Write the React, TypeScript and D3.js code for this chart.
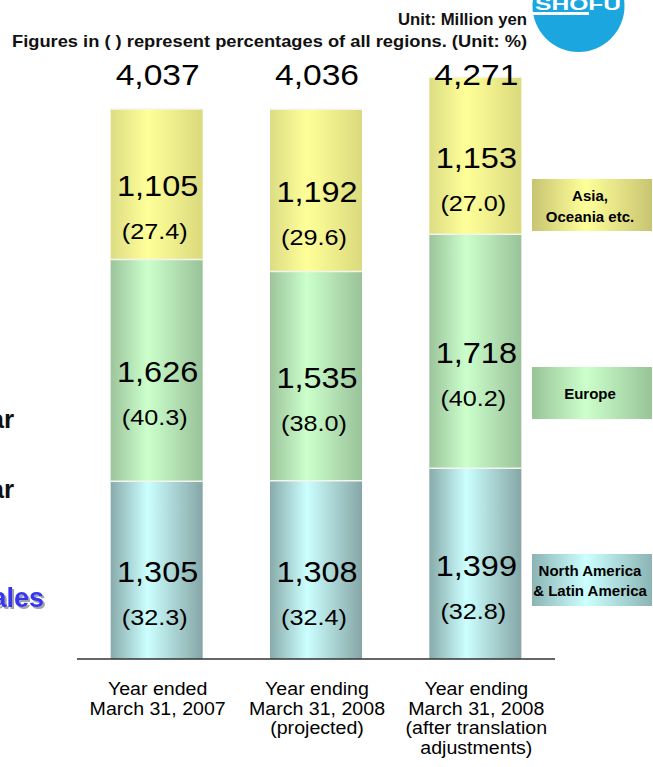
import React from "react";
import * as d3 from "d3";

const categories = ["2007", "2008p", "2008t"];
const categoryLabels = [
  ["Year ended", "March 31, 2007"],
  ["Year ending", "March 31, 2008", "(projected)"],
  ["Year ending", "March 31, 2008", "(after translation", "adjustments)"],
];
const regions = ["North America & Latin America", "Europe", "Asia, Oceania etc."];
const northAmerica = [1305, 1308, 1399];
const europe = [1626, 1535, 1718];
const asia = [1105, 1192, 1153];
const northAmericaPct = ["(32.3)", "(32.4)", "(32.8)"];
const europePct = ["(40.3)", "(38.0)", "(40.2)"];
const asiaPct = ["(27.4)", "(29.6)", "(27.0)"];
const totals = ["4,037", "4,036", "4,271"];
const yMax = 4271;

const W = 653;
const H = 767;
const baseY = 659;
const topY = 77;
const axisL = 77;
const axisR = 555;
const barW = 92;
const SX = 1.12;

const fills = [
  { id: "gNA", edgeL: "#88abab", mid: "#ccffff", edgeR: "#86a6a6", lgEdge: "#8cb4b4" },
  { id: "gEU", edgeL: "#9cc49c", mid: "#ccffcc", edgeR: "#99c299", lgEdge: "#98c498" },
  { id: "gAS", edgeL: "#dcdc84", mid: "#ffff99", edgeR: "#dada7e", lgEdge: "#c8c472" },
];

const legendBoxes = [
  { y: 554, h: 52, gap: 20, lines: ["North America", "& Latin America"] },
  { y: 367, h: 52, gap: 20, lines: ["Europe"] },
  { y: 179, h: 52, gap: 21, lines: ["Asia,", "Oceania etc."] },
];

export default function App() {
  const x = d3.scalePoint<string>().domain(categories).range([axisL, axisR]).padding(0.5);
  const y = d3.scaleLinear().domain([0, yMax]).range([baseY, topY]);
  const series = [northAmerica, europe, asia];
  const pcts = [northAmericaPct, europePct, asiaPct];
  const table = categories.map((c, i) => ({
    c,
    v0: northAmerica[i],
    v1: europe[i],
    v2: asia[i],
  }));
  const stack = d3.stack<any>().keys(["v0", "v1", "v2"])(table);

  const font = "Arial, 'Liberation Sans', Helvetica, sans-serif";

  const stext = (
    key: string,
    tx: number,
    ty: number,
    s: string,
    size: number,
    extra: any = {},
    sx: number = SX
  ) => (
    <text
      key={key}
      transform={`translate(${tx},${ty}) scale(${sx},1)`}
      textAnchor="middle"
      fontSize={size}
      fontFamily={font}
      fill="#000"
      {...extra}
    >
      {s}
    </text>
  );

  return (
    <svg
      width={W}
      height={H}
      style={{ position: "absolute", left: 0, top: 0, background: "#fff" }}
      fontFamily={font}
    >
      <defs>
        {fills.map((f) => (
          <linearGradient key={f.id} id={f.id} x1="0" x2="1" y1="0" y2="0">
            <stop offset="0" stopColor={f.edgeL} />
            <stop offset="0.4" stopColor={f.mid} />
            <stop offset="1" stopColor={f.edgeR} />
          </linearGradient>
        ))}
        {fills.map((f) => (
          <linearGradient key={f.id + "L"} id={f.id + "L"} x1="0" x2="1" y1="0" y2="0">
            <stop offset="0" stopColor={f.lgEdge} />
            <stop offset="0.45" stopColor={f.mid} />
            <stop offset="1" stopColor={f.lgEdge} />
          </linearGradient>
        ))}
        <filter id="shadow" x="-10%" y="-10%" width="130%" height="130%">
          <feDropShadow dx="2" dy="2" stdDeviation="0.6" floodColor="#999" floodOpacity="0.9" />
        </filter>
      </defs>

      {/* logo */}
      <circle cx={578.5} cy={6} r={46} fill="#1ba6df" />
      <text
        x={578}
        y={10}
        textAnchor="middle"
        fontSize={16}
        fontWeight="bold"
        fill="#fff"
        textLength={86}
        lengthAdjust="spacingAndGlyphs"
      >
        SHOFU
      </text>
      <rect x={533} y={12} width={56} height={3} fill="#fff" />

      {/* header */}
      <text
        x={398}
        y={25}
        fontSize={16.5}
        fontWeight="bold"
        fill="#111"
        textLength={129}
        lengthAdjust="spacingAndGlyphs"
      >
        Unit: Million yen
      </text>
      <text
        x={12}
        y={47}
        fontSize={16.5}
        fontWeight="bold"
        fill="#111"
        textLength={515}
        lengthAdjust="spacingAndGlyphs"
      >
        Figures in ( ) represent percentages of all regions. (Unit: %)
      </text>

      {/* left cut-off slide text */}
      <text x={14} y={428} textAnchor="end" fontSize={26} fontWeight="bold" fill="#111">
        ar
      </text>
      <text x={14} y={498} textAnchor="end" fontSize={26} fontWeight="bold" fill="#111">
        ar
      </text>
      <text
        x={44}
        y={607}
        textAnchor="end"
        fontSize={27}
        fontWeight="bold"
        fill="#3636f2"
        filter="url(#shadow)"
      >
        ales
      </text>

      {/* bars */}
      {stack.map((layer, li) => (
        <g key={li}>
          {layer.map((d, i) => {
            const cx = x(categories[i])!;
            return (
              <rect
                key={i}
                x={cx - barW / 2}
                y={y(d[1])}
                width={barW}
                height={y(d[0]) - y(d[1])}
                fill={`url(#${fills[li].id})`}
              />
            );
          })}
        </g>
      ))}
      {/* separators */}
      {stack.map((layer, li) =>
        layer.map((d, i) => {
          const cx = x(categories[i])!;
          return (
            <line
              key={`s${li}-${i}`}
              x1={cx - barW / 2}
              x2={cx + barW / 2}
              y1={y(d[1])}
              y2={y(d[1])}
              stroke="#f4f4ee"
              strokeWidth={1.5}
            />
          );
        })
      )}

      {/* segment labels */}
      {stack.map((layer, li) =>
        layer.map((d, i) => {
          const cx = x(categories[i])!;
          const mid = (y(d[0]) + y(d[1])) / 2;
          return (
            <g key={`l${li}-${i}`}>
              {stext(`v${li}${i}`, cx + 1, mid + 12, d3.format(",")(series[li][i]), 29)}
              {stext(`p${li}${i}`, cx - 2, mid + 55, pcts[li][i], 22.5)}
            </g>
          );
        })
      )}

      {/* totals */}
      {categories.map((c, i) =>
        stext(`t${i}`, x(c)! + 1, 85, totals[i], 30)
      )}

      {/* axis line */}
      <line x1={axisL} x2={axisR} y1={baseY} y2={baseY} stroke="#333" strokeWidth={1.5} />

      {/* category labels */}
      {categories.map((c, i) =>
        categoryLabels[i].map((s, j) =>
          stext(`c${i}-${j}`, x(c)! + 1, 695 + j * 19.5, s, 17.5)
        )
      )}

      {/* legend */}
      {legendBoxes.map((b, i) => (
        <g key={`lg${i}`}>
          <rect x={532} y={b.y} width={120} height={b.h} fill={`url(#${fills[i].id}L)`} />
          {b.lines.map((s, j) =>
            stext(
              `lt${i}-${j}`,
              590,
              b.y + b.h / 2 + 6 - ((b.lines.length - 1) * b.gap) / 2 + j * b.gap,
              s,
              15,
              { fontWeight: "bold" },
              1.0
            )
          )}
        </g>
      ))}
    </svg>
  );
}
